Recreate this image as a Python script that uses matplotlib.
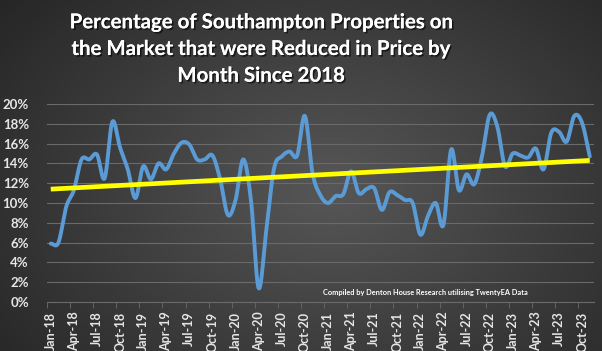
import numpy as np
import matplotlib
matplotlib.use("Agg")
import matplotlib.pyplot as plt
import matplotlib.patheffects as pe
from matplotlib.ticker import FuncFormatter, FixedLocator

plt.rcParams['font.family'] = ['Lato', 'DejaVu Sans']

months = ["Jan", "Feb", "Mar", "Apr", "May", "Jun", "Jul", "Aug", "Sep", "Oct", "Nov", "Dec"]
categories = [f"{m}-{y:02d}" for y in range(18, 24) for m in months][:71]

values = [5.9, 6.0, 9.6, 11.3, 14.4, 14.4, 14.9, 12.5, 18.2, 15.6, 13.4, 10.5,
          13.7, 12.4, 14.0, 13.4, 15.0, 16.1, 15.9, 14.4, 14.4, 14.8, 12.4, 8.8,
          10.3, 14.4, 10.3, 1.4, 7.3, 13.5, 14.7, 15.2, 14.8, 18.8, 13.0, 10.8,
          10.0, 10.7, 10.9, 13.2, 11.0, 11.4, 11.5, 9.3, 11.1, 10.8, 10.3, 10.0,
          6.8, 8.7, 10.0, 7.8, 15.4, 11.3, 12.9, 11.9, 14.7, 18.9, 17.7, 13.7,
          15.0, 14.8, 14.6, 15.5, 13.4, 17.1, 17.2, 16.2, 18.8, 18.1, 14.7]
trend_start, trend_end = 11.4, 14.3

title = "Percentage of Southampton Properties on\nthe Market that were Reduced in Price by\nMonth Since 2018"
note = "Compiled by Denton House Research utilising TwentyEA Data"

W, H = 602, 351
fig = plt.figure(figsize=(W / 100, H / 100), dpi=100)

# radial gradient background
bg = fig.add_axes([0, 0, 1, 1], zorder=-10)
yy, xx = np.mgrid[0:H, 0:W]
r = np.sqrt(((xx - 330) / 420.0) ** 2 + ((yy - 190) / 300.0) ** 2)
shade = np.clip(0.34 - 0.19 * r, 0.12, 0.34)
img = np.dstack([shade, shade, shade])
bg.imshow(img, aspect='auto', extent=[0, 1, 0, 1])
bg.axis('off')

ax = fig.add_axes([46.9 / W, 1 - 302 / H, (593.6 - 46.9) / W, (302 - 104) / H])
ax.set_facecolor('none')

x = np.arange(len(values))
vals = np.array(values) / 100.0

# Catmull-Rom smoothing for display (Excel smoothed line look)
def catmull(xs, ys, n=20):
    px = np.concatenate([[2 * xs[0] - xs[1]], xs, [2 * xs[-1] - xs[-2]]])
    py = np.concatenate([[2 * ys[0] - ys[1]], ys, [2 * ys[-1] - ys[-2]]])
    ox, oy = [], []
    for i in range(1, len(px) - 2):
        t = np.linspace(0, 1, n, endpoint=False)
        for arr, out in ((px, ox), (py, oy)):
            p0, p1, p2, p3 = arr[i - 1], arr[i], arr[i + 1], arr[i + 2]
            out.append(0.5 * ((2 * p1) + (-p0 + p2) * t + (2 * p0 - 5 * p1 + 4 * p2 - p3) * t ** 2
                              + (-p0 + 3 * p1 - 3 * p2 + p3) * t ** 3))
    ox.append([xs[-1]]); oy.append([ys[-1]])
    return np.concatenate(ox), np.concatenate(oy)

sx, sy = catmull(x.astype(float), vals)
ax.plot(sx, sy, color='#5B9BD5', lw=2.8, solid_capstyle='round', zorder=3)
ax.plot([x[0], x[-1]], [trend_start / 100, trend_end / 100], color='#FFFF00', lw=3.4,
        solid_capstyle='butt', zorder=4)

ax.set_xlim(-0.5, len(values) - 0.5)
ax.set_ylim(0, 0.20)
ax.set_yticks(np.arange(0, 0.201, 0.02))
ax.yaxis.set_major_formatter(FuncFormatter(lambda v, p: f"{v * 100:.0f}%"))
ax.grid(axis='y', color='#6a6a6a', lw=0.8)
ax.set_axisbelow(True)
for s in ['top', 'right', 'left']:
    ax.spines[s].set_visible(False)
ax.spines['bottom'].set_color('#6a6a6a')
ax.tick_params(axis='y', length=0, colors='#e6e6e6', labelsize=9.5, pad=13)

ax.set_xticks(x[::3])
ax.set_xticklabels(categories[::3], rotation=90)
ax.tick_params(axis='x', length=0, colors='#e6e6e6', labelsize=9, pad=7)
ax.xaxis.set_minor_locator(FixedLocator(np.arange(-0.5, len(values), 3)))
ax.tick_params(axis='x', which='minor', length=4, color='#6a6a6a')
for lab in ax.get_yticklabels() + ax.get_xticklabels():
    lab.set_fontweight('bold')

fig.text(261 / W, 1 - 49 / H, title, ha='center', va='center', color='white',
         fontsize=14.7, fontweight='bold', linespacing=1.42,
         path_effects=[pe.withSimplePatchShadow(offset=(1.2, -1.2), shadow_rgbFace='black', alpha=0.6),
                       pe.Normal()])
fig.text(323 / W, 1 - 293 / H, note, ha='left', va='center', color='white',
         fontsize=5.3, fontweight='bold')

fig.savefig('out.png', dpi=100)
